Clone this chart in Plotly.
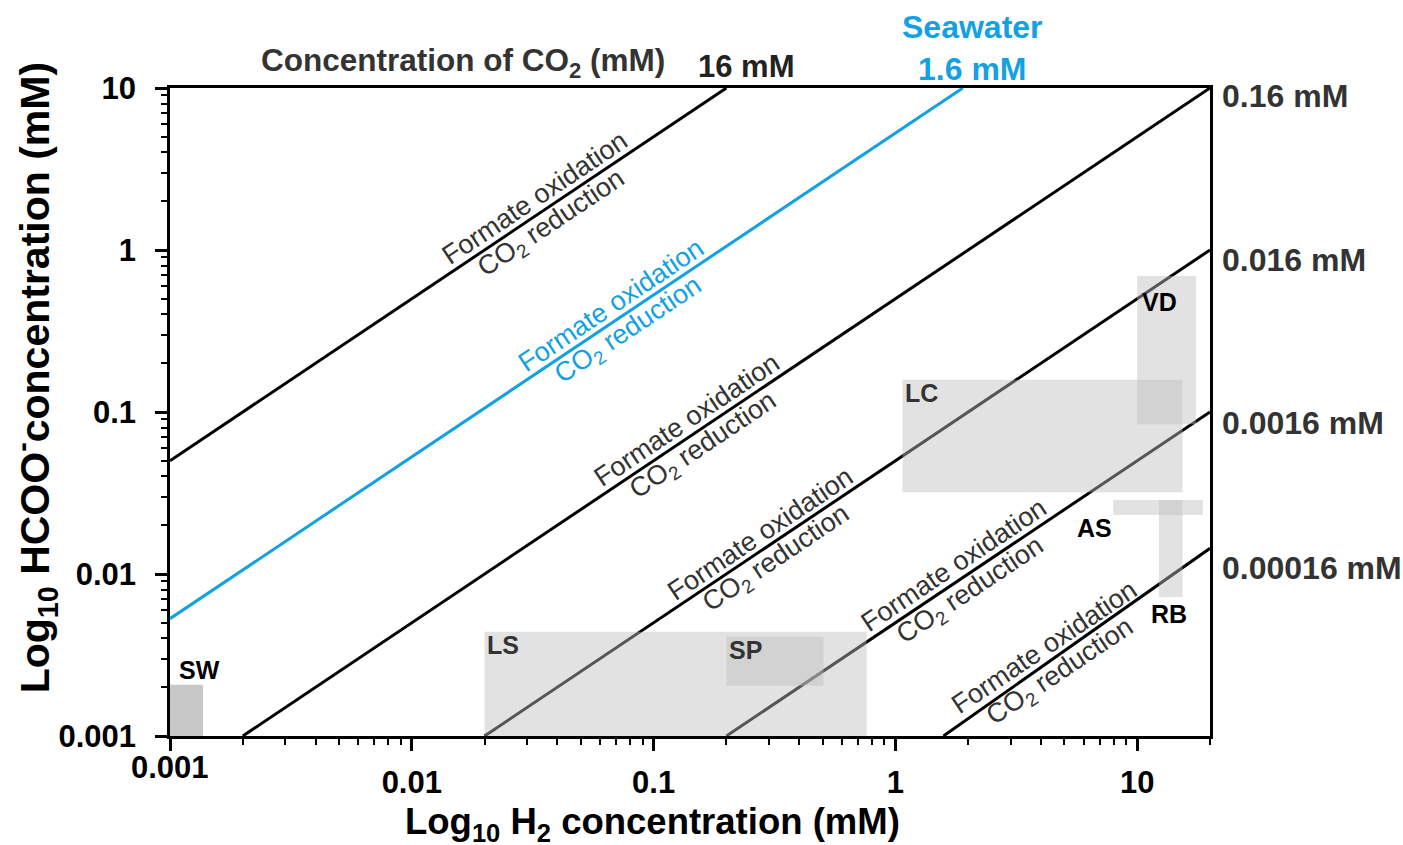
import numpy as np
import plotly.graph_objects as go

# ---------------- data ----------------
# CO2 iso-concentration lines (endpoints): H2 (mM) -> HCOO- (mM)
co2_labels = ["16 mM", "1.6 mM", "0.16 mM", "0.016 mM", "0.0016 mM", "0.00016 mM"]
line_h2_start = [0.001, 0.001, 0.002, 0.02, 0.2, 1.58]
line_f_start = [0.05, 0.0053, 0.001, 0.001, 0.001, 0.001]
line_h2_end = [0.2, 1.9, 20, 20, 20, 20]
line_f_end = [10, 10, 10, 1, 0.1, 0.0144]

# environment ranges (boxes)
site_names = ["SW", "LS", "SP", "LC", "VD", "AS", "RB"]
site_h2_min = [0.001, 0.02, 0.2, 1.07, 10, 7.96, 12.3]
site_h2_max = [0.00137, 0.76, 0.504, 15.4, 17.5, 18.7, 15.4]
site_f_min = [0.001, 0.001, 0.00204, 0.032, 0.084, 0.0231, 0.0072]
site_f_max = [0.00207, 0.0044, 0.0041, 0.158, 0.69, 0.0286, 0.0286]

tick_vals = [0.001, 0.01, 0.1, 1, 10]
tick_text = ["0.001", "0.01", "0.1", "1", "10"]

# ---------------- styles ----------------
FONT = "Liberation Sans, Arial, sans-serif"
BLUE = "#13a1e1"
line_colors = ["black", BLUE, "black", "black", "black", "black"]
text_colors = ["#333333", BLUE, "#333333", "#333333", "#333333", "#333333"]
label_pos_logx = [-1.457, -1.14, -0.828, -0.526, 0.277, 0.650]  # where along each line the text sits
box_fill = ["rgba(133,133,133,0.45)"] + ["rgba(190,190,190,0.45)"] * 6
box_label_anchor = ["tl", "tl", "tl", "tl", "tl", "bl", "bl"]
box_label_shift = [(29, 15), (18, -13), (19, -13), (19, -13), (22, -26), (-19, -13), (10, -17)]
box_label_color = ["black", "#333333", "#333333", "#333333", "black", "black", "black"]
right_label_yshift = [-8, -10, -11, -20]

fig = go.Figure()

# iso-lines
for i in range(len(co2_labels)):
    fig.add_trace(go.Scatter(
        x=[line_h2_start[i], line_h2_end[i]], y=[line_f_start[i], line_f_end[i]],
        mode="lines", line=dict(color=line_colors[i], width=3),
        showlegend=False, hoverinfo="skip"))

# boxes
for i in range(len(site_names)):
    x0, x1, y0, y1 = site_h2_min[i], site_h2_max[i], site_f_min[i], site_f_max[i]
    fig.add_trace(go.Scatter(
        x=[x0, x1, x1, x0, x0], y=[y0, y0, y1, y1, y0],
        mode="lines", fill="toself", fillcolor=box_fill[i],
        line=dict(width=0), showlegend=False, hoverinfo="skip"))

annotations = []

# line labels
ang = np.degrees(np.arctan((162.0) / (241.8)))
s, c = np.sin(np.radians(ang)), np.cos(np.radians(ang))
for i in range(len(co2_labels)):
    lx0, ly0 = np.log10(line_h2_start[i]), np.log10(line_f_start[i])
    lx1, ly1 = np.log10(line_h2_end[i]), np.log10(line_f_end[i])
    lx = label_pos_logx[i]
    ly = ly0 + (ly1 - ly0) * (lx - lx0) / (lx1 - lx0)
    for txt, d in [("Formate oxidation", 15), ("CO<sub>2</sub> reduction", -16)]:
        annotations.append(dict(
            x=lx, y=ly, xref="x", yref="y", text=txt, showarrow=False,
            textangle=-ang, xanchor="center", yanchor="middle",
            xshift=-d * s, yshift=d * c,
            font=dict(family=FONT, size=27, color=text_colors[i])))

# box labels
for i in range(len(site_names)):
    ax = np.log10(site_h2_min[i])
    ay = np.log10(site_f_max[i] if box_label_anchor[i] == "tl" else site_f_min[i])
    dx, dy = box_label_shift[i]
    annotations.append(dict(
        x=ax, y=ay, xref="x", yref="y", text="<b>%s</b>" % site_names[i],
        showarrow=False, xanchor="center", yanchor="middle", xshift=dx, yshift=dy,
        font=dict(family=FONT, size=25, color=box_label_color[i])))

# right-side CO2 labels
for j, i in enumerate(range(2, 6)):
    annotations.append(dict(
        x=1, y=np.log10(line_f_end[i]), xref="paper", yref="y",
        text="<b>%s</b>" % co2_labels[i], showarrow=False,
        xanchor="left", yanchor="middle", xshift=10, yshift=right_label_yshift[j],
        font=dict(family=FONT, size=32, color="#333333")))

# top labels
annotations.append(dict(
    x=np.log10(line_h2_end[0]), y=1, xref="x", yref="paper",
    text="<b>%s</b>" % co2_labels[0], showarrow=False,
    xanchor="center", yanchor="middle", xshift=20, yshift=22,
    font=dict(family=FONT, size=31, color="#222222")))
annotations.append(dict(
    x=np.log10(line_h2_end[1]), y=1, xref="x", yref="paper",
    text="<b>Seawater<br>%s</b>" % co2_labels[1], showarrow=False,
    xanchor="center", yanchor="middle", xshift=10, yshift=40,
    font=dict(family=FONT, size=32, color=BLUE)))
annotations.append(dict(
    x=0.2817, y=1.0386, xref="paper", yref="paper",
    text="<b>Concentration of CO<sub>2</sub> (mM)</b>", showarrow=False,
    xanchor="center", yanchor="middle",
    font=dict(family=FONT, size=31.5, color="#333333")))

# axis titles
annotations.append(dict(
    x=0.4635, y=-0.139, xref="paper", yref="paper",
    text="<b>Log<sub>10</sub> H<sub>2</sub> concentration (mM)</b>", showarrow=False,
    xanchor="center", yanchor="middle", yshift=2,
    font=dict(family=FONT, size=36.5, color="black")))
annotations.append(dict(
    x=-0.1298, y=0.552, xref="paper", yref="paper",
    text="<b>Log<sub>10</sub> HCOO<sup>-</sup>concentration (mM)</b>", showarrow=False,
    textangle=-90, xanchor="center", yanchor="middle",
    font=dict(family=FONT, size=41, color="black")))

# lifted 0.001 label on x axis
annotations.append(dict(
    x=np.log10(tick_vals[0]), y=0, xref="x", yref="paper",
    text="<b>%s</b>" % tick_text[0], showarrow=False,
    xanchor="center", yanchor="middle", yshift=-31,
    font=dict(family=FONT, size=31, color="black")))

minor_vals = [m * 10.0 ** e for e in range(-3, 2) for m in range(2, 10)]

axis_common = dict(
    type="log", showgrid=False, zeroline=False, showline=True, linecolor="black",
    linewidth=2.5, mirror=True, ticks="outside", ticklen=12, tickwidth=2.5,
    tickcolor="black", tickmode="array", tickvals=tick_vals,
    tickfont=dict(family=FONT, size=31, color="black"),
    minor=dict(tickmode="array", tickvals=minor_vals, ticks="outside",
               ticklen=6, tickwidth=2, tickcolor="black", showgrid=False),
)

fig.update_layout(
    width=1403, height=845,
    margin=dict(l=170, r=193, t=88, b=109),
    paper_bgcolor="white", plot_bgcolor="white",
    showlegend=False,
    xaxis=dict(axis_common, range=[-3, np.log10(20)],
               ticktext=["<b></b>"] + ["<b>%s</b>" % t for t in tick_text[1:]],
               ticklabelstandoff=5),
    yaxis=dict(axis_common, range=[-3, 1],
               ticktext=["<b>%s</b>" % t for t in tick_text],
               ticklabelstandoff=13),
    annotations=annotations,
)

fig.write_html("out.html")
